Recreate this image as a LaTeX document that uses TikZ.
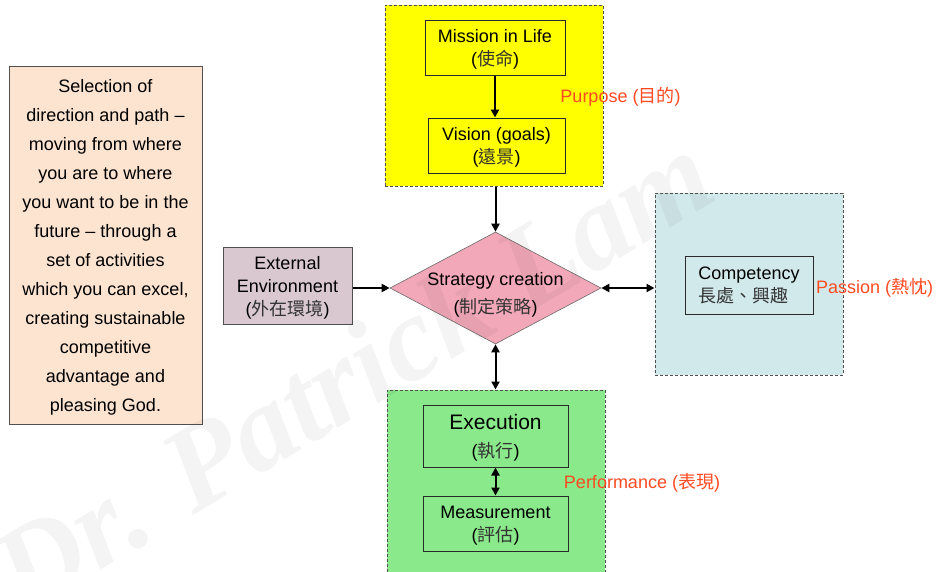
\documentclass[tikz,border=0pt]{standalone}
\usepackage{fontspec}
\setmainfont{Liberation Sans}
\newfontfamily\zhfont{Noto Sans CJK TC}
\newfontfamily\wmfont{Liberation Serif}
\usetikzlibrary{arrows.meta,positioning,shapes.geometric}
\definecolor{pyellow}{HTML}{FFFF00}
\definecolor{ppinkd}{HTML}{F2A8B8}
\definecolor{pmauve}{HTML}{D9C8D0}
\definecolor{pblue}{HTML}{D2E9EB}
\definecolor{pgreen}{HTML}{8AE98A}
\definecolor{ppeach}{HTML}{FCE4D0}
\definecolor{pred}{HTML}{FF4A22}
\definecolor{pdash}{HTML}{505050}
\definecolor{pline}{HTML}{2A2A2A}
\newcommand{\zhtxt}[1]{{\zhfont\color{black!80}#1}}
\tikzset{
  area/.style={draw=pdash,line width=1pt,dash pattern=on 3pt off 2pt,inner sep=0pt},
  box/.style={draw=pline,line width=1pt,align=center,inner sep=0pt,text depth=0pt,font=\fontsize{18}{23}\selectfont},
  tag/.style={text=pred,font=\fontsize{18}{22}\selectfont,inner sep=0pt},
  arr/.style={-{Triangle[length=8pt,width=8pt]},line width=2pt},
  darr/.style={{Triangle[length=8pt,width=8pt]}-{Triangle[length=8pt,width=8pt]},line width=2pt},
  wmark/.style={font=\wmfont\bfseries\itshape\fontsize{120}{120}\selectfont,text=black,opacity=0.045,rotate=31,inner sep=0pt},
}
\begin{document}
\begin{tikzpicture}[x=1pt,y=-1pt]
  \path[fill=white,use as bounding box] (0,0) rectangle (937,571);
  \clip (0,0) rectangle (937,571);
  % left description
  \node[box,draw=pdash,fill=ppeach,minimum width=193,minimum height=358,font=\fontsize{18}{29}\selectfont] (desc) at (105.5,245)
    {Selection of\\direction and path --\\moving from where\\you are to where\\you want to be in the\\future -- through a\\set of activities\\which you can excel,\\creating sustainable\\competitive\\advantage and\\pleasing God.};
  % purpose
  \node[area,fill=pyellow,minimum width=218,minimum height=181] (purp) at (494,95.5) {};
  \node[box,fill=pyellow,minimum width=140,minimum height=55] (mission) at (495,47.5) {Mission in Life\\(\zhtxt{使命})};
  \node[box,fill=pyellow,minimum width=137,minimum height=55] (vision) at (496.5,145.5) {Vision (goals)\\(\zhtxt{遠景})};
  \node[tag] (purptag) at (620.5,97) {Purpose (\zhtxt{\color{pred}目的})};
  % strategy
  \node[diamond,draw=pline!70,line width=0.6pt,fill=ppinkd,minimum width=211,minimum height=112,inner sep=0pt] (strat) at (495.5,288) {};
  \node[align=center,inner sep=0pt,font=\fontsize{18}{28}\selectfont] (strattxt) at (495.5,295) {Strategy creation\\(\zhtxt{制定策略})};
  \node[box,draw=pdash,fill=pmauve,minimum width=129,minimum height=77] (ext) at (287.5,285.5) {External\\Environment\\(\zhtxt{外在環境})};
  % passion
  \node[area,fill=pblue,minimum width=188,minimum height=182] (pass) at (749,284) {};
  \node[box,fill=pblue,align=left,minimum width=128,minimum height=58] (comp) at (749,285) {Competency\\\zhtxt{長處、興趣}};
  \node[tag,anchor=west] (passtag) at (816,288) {Passion (\zhtxt{\color{pred}熱忱})};
  % performance
  \node[area,fill=pgreen,minimum width=218,minimum height=200] (perf) at (496,490) {};
  \node[box,fill=pgreen,minimum width=145,minimum height=62,font=\fontsize{18}{28}\selectfont] (exec) at (495.5,436) {{\fontsize{21}{25}\selectfont Execution}\\(\zhtxt{執行})};
  \node[box,fill=pgreen,minimum width=145,minimum height=55] (meas) at (495.5,523.5) {Measurement\\(\zhtxt{評估})};
  \node[tag] (perftag) at (642,483) {Performance (\zhtxt{\color{pred}表現})};
  % arrows
  \draw[arr] (mission) -- (mission |- vision.north);
  \draw[arr] (purp.south -| strat) -- (strat.north);
  \draw[arr] (ext.east |- strat) -- (strat.west);
  \draw[darr] (strat.east) -- (pass.west |- strat);
  \draw[darr] (strat.south) -- (perf.north -| strat);
  \draw[darr] (exec) -- (meas);
  % watermark
  \node[wmark] (wm) at (352,372) {Dr. Patrick Lam};
\end{tikzpicture}
\end{document}
